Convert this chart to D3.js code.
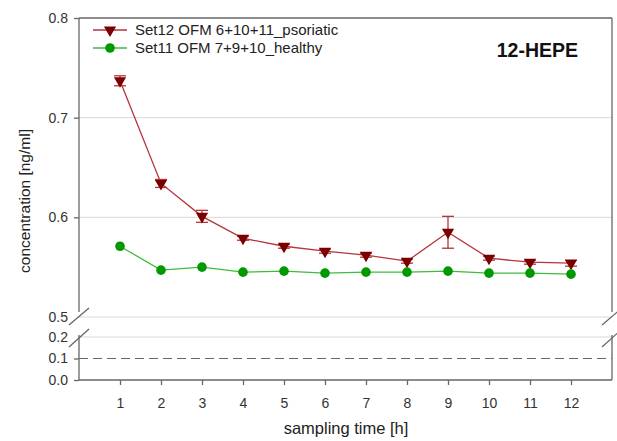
<!DOCTYPE html>
<html>
<head>
<meta charset="utf-8">
<script src="https://cdn.jsdelivr.net/npm/d3@7"></script>
<style>
  body { margin: 0; background: #fff; }
  text { font-family: "Liberation Sans", Arial, sans-serif; }
</style>
</head>
<body>
<svg id="chart" width="617" height="441"></svg>
<script>
// sampling times
const times = [1, 2, 3, 4, 5, 6, 7, 8, 9, 10, 11, 12];
// Set12 psoriatic means and errors
const psoriatic = [0.737, 0.634, 0.601, 0.579, 0.571, 0.566, 0.562, 0.556, 0.585, 0.559, 0.555, 0.554];
const psoriaticErr = [0.005, 0.004, 0.006, 0.002, 0.002, 0.002, 0.002, 0.002, 0.016, 0.002, 0.002, 0.003];
// Set11 healthy means
const healthy = [0.571, 0.547, 0.550, 0.545, 0.546, 0.544, 0.545, 0.545, 0.546, 0.544, 0.544, 0.543];
// tick labels
const upperTicks = [0.5, 0.6, 0.7, 0.8];
const lowerTicks = [0.0, 0.1, 0.2];
const seriesNames = ["Set12 OFM 6+10+11_psoriatic", "Set11 OFM 7+9+10_healthy"];

const svg = d3.select("#chart");
const pLeft = 79, pRight = 612, pTop = 18, pBottom = 380;

const x = d3.scaleLinear().domain([0, 13]).range([pLeft, pRight]);
// broken y axis: two segments
const yTop = d3.scaleLinear().domain([0.5, 0.8]).range([317, pTop]);
const yBot = d3.scaleLinear().domain([0, 0.2]).range([pBottom, 337]);

const axisColor = "#666";

// grid lines
const grid = svg.append("g");
grid.selectAll("line.gt")
  .data([0.6, 0.7, 0.5])
  .join("line")
  .attr("x1", pLeft).attr("x2", pRight)
  .attr("y1", d => yTop(d)).attr("y2", d => yTop(d))
  .attr("stroke", "#d8d8d8");
grid.append("line")
  .attr("x1", pLeft).attr("x2", pRight)
  .attr("y1", yBot(0.2)).attr("y2", yBot(0.2))
  .attr("stroke", "#d8d8d8");
// dashed reference at 0.1
grid.append("line")
  .attr("x1", pLeft).attr("x2", pRight)
  .attr("y1", yBot(0.1)).attr("y2", yBot(0.1))
  .attr("stroke", "#666")
  .attr("stroke-dasharray", "9,5");

// frame
const frame = svg.append("g").attr("stroke", axisColor).attr("stroke-width", 1.3).attr("fill", "none");
frame.append("line").attr("x1", pLeft).attr("x2", pRight).attr("y1", pTop).attr("y2", pTop);
frame.append("line").attr("x1", pLeft).attr("x2", pRight).attr("y1", pBottom).attr("y2", pBottom);
[pLeft, pRight].forEach(xx => {
  frame.append("line").attr("x1", xx).attr("x2", xx).attr("y1", pTop).attr("y2", yTop(0.5) - 5);
  frame.append("line").attr("x1", xx).attr("x2", xx).attr("y1", yBot(0.2) - 2).attr("y2", pBottom);
  // break marks
  frame.append("line").attr("x1", xx - 10).attr("x2", xx + 10).attr("y1", yTop(0.5) + 8).attr("y2", yTop(0.5) - 9);
  frame.append("line").attr("x1", xx - 10).attr("x2", xx + 10).attr("y1", yBot(0.2) + 10).attr("y2", yBot(0.2) - 8);
});

// y axes
const yAxisTop = d3.axisLeft(yTop).tickValues(upperTicks).tickFormat(d3.format(".1f")).tickSize(5);
const yAxisBot = d3.axisLeft(yBot).tickValues(lowerTicks).tickFormat(d3.format(".1f")).tickSize(5);
[svg.append("g").call(yAxisTop), svg.append("g").call(yAxisBot)].forEach(g => {
  g.attr("transform", `translate(${pLeft},0)`);
  g.select(".domain").remove();
  g.selectAll(".tick line").attr("stroke", axisColor).attr("stroke-width", 1.3);
  g.selectAll(".tick text").attr("fill", "#333").attr("font-size", 14)
    .attr("font-family", "Liberation Sans, Arial, sans-serif").attr("x", -11);
});
// 0.5 and 0.2 sit at the break, no tick marks there
svg.selectAll(".tick").filter(d => d === 0.5 || d === 0.2).select("line").remove();

// x axis
const xAxis = d3.axisBottom(x).tickValues(times).tickFormat(d3.format("d")).tickSize(5);
const gx = svg.append("g").attr("transform", `translate(0,${pBottom})`).call(xAxis);
gx.select(".domain").remove();
gx.selectAll(".tick line").attr("stroke", axisColor).attr("stroke-width", 1.3);
gx.selectAll(".tick text").attr("fill", "#333").attr("font-size", 14)
  .attr("font-family", "Liberation Sans, Arial, sans-serif").attr("dy", "1.45em");

// axis titles
svg.append("text")
  .attr("x", 346).attr("y", 434)
  .attr("text-anchor", "middle").attr("font-size", 16.5).attr("fill", "#222")
  .text("sampling time [h]");
svg.append("text")
  .attr("transform", `translate(30,201) rotate(-90)`)
  .attr("text-anchor", "middle").attr("font-size", 15.5).attr("fill", "#222")
  .text("concentration [ng/ml]");

// lines
const redLine = "#b5353a", redFill = "#7a0000";
const greenLine = "#3cbd3c", greenFill = "#009a00";

const lineP = d3.line().x((d, i) => x(times[i])).y(d => yTop(d));
svg.append("path").datum(psoriatic).attr("d", lineP)
  .attr("fill", "none").attr("stroke", redLine).attr("stroke-width", 1.3);
svg.append("path").datum(healthy).attr("d", lineP)
  .attr("fill", "none").attr("stroke", greenLine).attr("stroke-width", 1.3);

// error bars
const eb = svg.append("g").attr("stroke", redLine).attr("stroke-width", 1.3);
psoriatic.forEach((v, i) => {
  const cx = x(times[i]);
  const y1 = yTop(v + psoriaticErr[i]), y2 = yTop(v - psoriaticErr[i]);
  eb.append("line").attr("x1", cx).attr("x2", cx).attr("y1", y1).attr("y2", y2);
  eb.append("line").attr("x1", cx - 6).attr("x2", cx + 6).attr("y1", y1).attr("y2", y1);
  eb.append("line").attr("x1", cx - 6).attr("x2", cx + 6).attr("y1", y2).attr("y2", y2);
});

// markers
const tri = d3.symbol().type(d3.symbolTriangle).size(65);
svg.append("g").selectAll("path")
  .data(psoriatic)
  .join("path")
  .attr("d", tri)
  .attr("transform", (d, i) => `translate(${x(times[i])},${yTop(d)}) rotate(180)`)
  .attr("fill", redFill);
svg.append("g").selectAll("circle")
  .data(healthy)
  .join("circle")
  .attr("cx", (d, i) => x(times[i]))
  .attr("cy", d => yTop(d))
  .attr("r", 4.8)
  .attr("fill", greenFill);

// legend
const legend = svg.append("g");
[[redLine, redFill, "tri"], [greenLine, greenFill, "circ"]].forEach((s, i) => {
  const ly = 30 + i * 18;
  legend.append("line").attr("x1", 93).attr("x2", 127).attr("y1", ly).attr("y2", ly)
    .attr("stroke", s[0]).attr("stroke-width", 1.3);
  if (s[2] === "tri") {
    legend.append("path").attr("d", tri).attr("transform", `translate(110,${ly}) rotate(180)`).attr("fill", s[1]);
  } else {
    legend.append("circle").attr("cx", 110).attr("cy", ly).attr("r", 4.8).attr("fill", s[1]);
  }
  legend.append("text").attr("x", 135).attr("y", ly + 5).attr("font-size", 15).attr("fill", "#222")
    .text(seriesNames[i]);
});

svg.append("text")
  .attr("x", 578).attr("y", 57).attr("text-anchor", "end")
  .attr("font-size", 19.5).attr("font-weight", "bold").attr("fill", "#111")
  .text("12-HEPE");
</script>
</body>
</html>
